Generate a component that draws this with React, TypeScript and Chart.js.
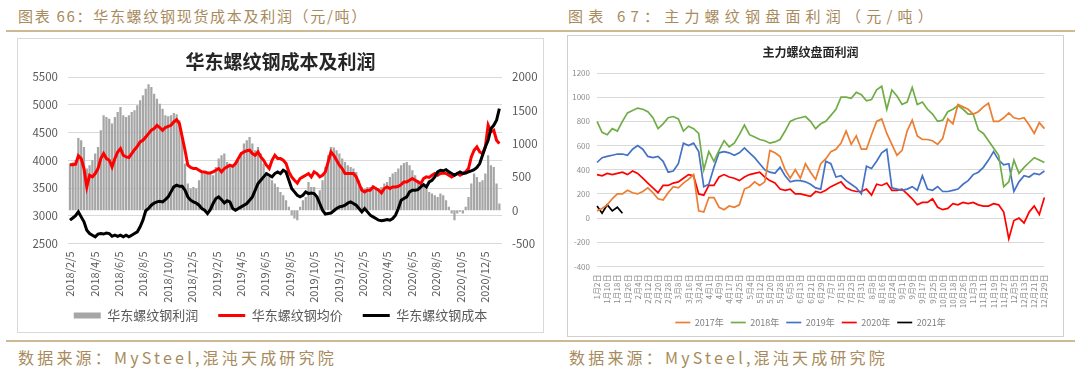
import React, { useEffect, useRef } from "react";
import { Chart, registerables } from "chart.js";

Chart.register(...registerables);

const FONT = "'Noto Sans CJK SC', 'Noto Sans', sans-serif";
Chart.defaults.font.family = FONT;

// ---------- Left chart: 华东螺纹钢成本及利润 (weekly samples from 2018/2/5) ----------
const leftXTickLabels = [
  "2018/2/5", "2018/4/5", "2018/6/5", "2018/8/5", "2018/10/5", "2018/12/5",
  "2019/2/5", "2019/4/5", "2019/6/5", "2019/8/5", "2019/10/5", "2019/12/5",
  "2020/2/5", "2020/4/5", "2020/6/5", "2020/8/5", "2020/10/5", "2020/12/5",
];
// weeks expressed in months (tick labels are every 2 months)
const WEEK_IN_MONTHS = 7 / 30.44;

const weeklyProfit = [
  700, 720, 750, 1085, 1050, 950, 625, 675, 750, 850,
  950, 1200, 1425, 1400, 1375, 1300, 1400, 1475, 1550, 1425,
  1400, 1425, 1475, 1500, 1575, 1650, 1725, 1825, 1890, 1850,
  1750, 1675, 1600, 1525, 1425, 1410, 1425, 1460, 1440, 1350,
  1100, 700, 400, 325, 350, 325, 450, 550, 575, 550,
  550, 525, 650, 775, 825, 850, 725, 650, 650, 700,
  750, 875, 1000, 1050, 1100, 1000, 900, 950, 850, 700,
  575, 500, 450, 400, 350, 275, 225, 150, 50, -75,
  -125, -150, 50, 150, 200, 425, 350, 350, 200, 300,
  450, 650, 825, 950, 940, 900, 850, 775, 725, 675,
  650, 625, 575, 450, 350, 325, 350, 350, 375, 325,
  325, 350, 400, 425, 500, 550, 575, 625, 675, 710,
  725, 675, 600, 525, 450, 400, 350, 325, 275, 250,
  225, 200, 250, 225, 150, 50, -50, -150, -50, -25,
  -50, 50, 200, 400, 550, 500, 425, 450, 550, 825,
  675, 650, 400, 100,
];

const weeklyPrice = [
  3920, 3920, 3930, 4080, 4030, 3850, 3520, 3730, 3700, 3760,
  3850, 4030, 4120, 4030, 4000, 3880, 4030, 4150, 4210, 4090,
  4060, 4050, 4120, 4190, 4250, 4330, 4360, 4420, 4480, 4540,
  4570, 4630, 4590, 4540, 4590, 4610, 4630, 4690, 4730, 4660,
  4420, 4180, 3910, 3870, 3850, 3850, 3820, 3790, 3790, 3770,
  3770, 3790, 3820, 3850, 3790, 3850, 3880, 3910, 3890, 3940,
  4030, 4120, 4150, 4170, 4180, 4120, 4090, 4150, 4060, 4000,
  3910, 3850, 4000, 4090, 4030, 4030, 4000, 3940, 3790, 3700,
  3640, 3590, 3670, 3700, 3730, 3760, 3700, 3790, 3760, 3700,
  3730, 3790, 3970, 4150, 4090, 4000, 3910, 3850, 3760, 3760,
  3760, 3760, 3700, 3580, 3460, 3430, 3460, 3460, 3520, 3490,
  3460, 3410, 3490, 3520, 3490, 3520, 3520, 3530, 3560, 3610,
  3610, 3640, 3670, 3640, 3610, 3580, 3670, 3700, 3690, 3730,
  3760, 3730, 3760, 3770, 3760, 3730, 3700, 3730, 3760, 3730,
  3760, 3790, 3850, 4060, 4180, 4240, 4150, 4120, 4240, 4630,
  4510, 4540, 4360, 4300,
];

const weeklyCost = [
  2920, 2960, 3000, 3070, 2980, 2890, 2740, 2680, 2650, 2620,
  2670, 2680, 2670, 2690, 2680, 2630, 2650, 2630, 2650, 2620,
  2650, 2620, 2650, 2680, 2710, 2800, 2920, 3090, 3130, 3190,
  3230, 3250, 3260, 3250, 3290, 3340, 3430, 3520, 3550, 3530,
  3530, 3460, 3340, 3280, 3250, 3230, 3190, 3130, 3100, 3040,
  3110, 3220, 3310, 3340, 3290, 3230, 3270, 3250, 3130, 3100,
  3130, 3160, 3190, 3220, 3280, 3340, 3460, 3580, 3640, 3700,
  3760, 3730, 3700, 3760, 3790, 3760, 3820, 3790, 3640, 3490,
  3430, 3370, 3340, 3370, 3430, 3400, 3410, 3400, 3340, 3220,
  3100, 3030, 3040, 3050, 3090, 3130, 3160, 3170, 3190, 3230,
  3250, 3220, 3190, 3130, 3070, 3130, 3070, 3010, 2980, 2950,
  2920, 2910, 2920, 2930, 2920, 2950, 3010, 3130, 3280, 3310,
  3340, 3430, 3460, 3460, 3470, 3520, 3560, 3520, 3610, 3640,
  3700, 3790, 3820, 3810, 3830, 3790, 3760, 3730, 3760, 3790,
  3760, 3770, 3790, 3810, 3830, 3870, 3940, 4090, 4240, 4360,
  4570, 4630, 4720, 4930,
];

// ---------- Right chart: 主力螺纹盘面利润 (two samples per labelled date) ----------
const rightXTickLabels = [
  "1月2日", "1月10日", "1月18日", "1月26日", "2月4日", "2月12日", "2月20日", "2月28日",
  "3月8日", "3月16日", "3月24日", "4月1日", "4月9日", "4月17日", "4月25日", "5月4日",
  "5月12日", "5月20日", "5月28日", "6月5日", "6月13日", "6月21日", "6月29日", "7月7日",
  "7月15日", "7月23日", "7月31日", "8月8日", "8月16日", "8月24日", "9月1日", "9月9日",
  "9月17日", "9月25日", "10月10日", "10月18日", "10月26日", "11月3日", "11月11日",
  "11月19日", "11月27日", "12月5日", "12月13日", "12月21日", "12月29日",
];

const profit2017 = [
  60, 80, 110, 160, 200, 200, 230, 210, 200, 220,
  250, 210, 160, 150, 210, 260, 250, 290, 320, 360,
  60, 50, 170, 170, 90, 70, 100, 90, 110, 240,
  260, 300, 270, 300, 560, 540, 510, 400, 330, 400,
  330, 450, 380, 320, 450, 490, 550, 570, 620, 720,
  610, 680, 570, 570, 690, 800, 820, 700, 610, 520,
  560, 720, 810, 680, 650, 650, 640, 610, 660, 820,
  780, 940, 920, 900, 860, 880, 920, 950, 800, 800,
  830, 870, 830, 820, 830, 770, 700, 790, 740,
];
const profit2018 = [
  800, 710, 690, 740, 720, 800, 870, 890, 910, 900,
  880, 830, 740, 780, 830, 840, 820, 720, 760, 740,
  700, 400, 550, 470, 560, 640, 590, 620, 690, 770,
  690, 670, 650, 640, 620, 630, 650, 720, 800, 820,
  830, 840, 800, 740, 780, 800, 850, 900, 1000, 1000,
  990, 1040, 1020, 970, 980, 1060, 1090, 900, 1060, 1010,
  940, 960, 1080, 940, 960, 900, 860, 800, 810, 880,
  900, 930, 900, 860, 860, 730, 700, 640, 580, 520,
  260, 300, 480, 370, 420, 460, 500, 480, 460,
];
const profit2019 = [
  460, 500, 510, 520, 530, 530, 520, 570, 600, 570,
  510, 500, 510, 470, 380, 390, 450, 620, 600, 620,
  550, 260, 280, 420, 540, 550, 540, 520, 540, 580,
  540, 500, 450, 400, 380, 370, 420, 350, 300, 310,
  310, 300, 280, 250, 240, 470, 450, 340, 350, 310,
  280, 250, 200, 430, 410, 470, 540, 570, 250, 240,
  230, 240, 260, 230, 350, 240, 230, 260, 220, 220,
  230, 240, 280, 310, 360, 380, 420, 480, 550, 480,
  440, 450, 220, 300, 350, 340, 370, 360, 390,
];
const profit2020 = [
  360, 350, 370, 360, 370, 380, 360, 390, 370, 330,
  290, 250, 210, 270, 270, 290, 300, 330, 360, 350,
  200, 190, 270, 270, 340, 360, 340, 330, 310, 340,
  360, 370, 380, 340, 310, 290, 240, 230, 240, 200,
  200, 190, 180, 220, 210, 230, 260, 280, 300, 250,
  230, 220, 220, 240, 190, 280, 270, 290, 230, 230,
  240, 200, 160, 110, 130, 130, 160, 90, 70, 80,
  120, 110, 130, 120, 130, 110, 100, 100, 120, 110,
  50, -170, -20, 0, -40, 50, 100, 30, 170,
];
const profit2021 = [100, 40, 110, 60, 90, 40];

const seriesYears = ["2017年", "2018年", "2019年", "2020年", "2021年"];
const seriesColors = ["#ed7d31", "#70ad47", "#4472c4", "#ff0000", "#000000"];

// let the rotated x tick labels extend past the x-scale box (legend sits close below)
const unclipXLabels = {
  id: "unclipXLabels",
  beforeDraw(chart: any) {
    const s = chart.scales.x;
    if (s) s._computeLabelArea = () => undefined;
  },
};

const plainNumber = (v: any) => String(v);

function LeftChart() {
  const ref = useRef<HTMLCanvasElement>(null);
  useEffect(() => {
    const toXY = (arr: number[]) => arr.map((v, i) => ({ x: i * WEEK_IN_MONTHS, y: v }));
    const chart = new Chart(ref.current as HTMLCanvasElement, {
      type: "bar",
      data: {
        datasets: [
          {
            type: "bar",
            label: "华东螺纹钢利润",
            data: toXY(weeklyProfit),
            yAxisID: "y1",
            backgroundColor: "#a6a6a6",
            borderColor: "#a6a6a6",
            borderWidth: 0,
            barPercentage: 1,
            categoryPercentage: 0.8,
            order: 3,
            pointStyle: "rect",
          } as any,
          {
            type: "line",
            label: "华东螺纹钢均价",
            data: toXY(weeklyPrice),
            yAxisID: "y",
            borderColor: "#ff0000",
            backgroundColor: "#ff0000",
            borderWidth: 3,
            pointRadius: 0,
            order: 2,
            pointStyle: "line",
          } as any,
          {
            type: "line",
            label: "华东螺纹钢成本",
            data: toXY(weeklyCost),
            yAxisID: "y",
            borderColor: "#000000",
            backgroundColor: "#000000",
            borderWidth: 3,
            pointRadius: 0,
            order: 1,
            pointStyle: "line",
          } as any,
        ],
      },
      options: {
        animation: false,
        responsive: false,
        maintainAspectRatio: false,
        layout: { padding: 0 },
        plugins: {
          title: {
            display: true,
            text: "华东螺纹钢成本及利润",
            color: "#262626",
            font: { family: FONT, size: 19, weight: "bold" },
            padding: { top: 11.4, bottom: 3.8 },
          },
          legend: {
            position: "bottom",
            labels: {
              usePointStyle: true,
              pointStyleWidth: 27,
              boxHeight: 6,
              padding: 20,
              color: "#595959",
              font: { family: FONT, size: 13 },
              sort: (a: any, b: any) => a.datasetIndex - b.datasetIndex,
            },
          },
          tooltip: { enabled: false },
        },
        scales: {
          x: {
            type: "linear",
            min: -0.16,
            max: 35.4,
            offset: false,
            grid: { display: false, drawTicks: false, offset: false },
            border: { display: false },
            afterBuildTicks: (s: any) => {
              s.ticks = leftXTickLabels.map((_, i) => ({ value: i * 2 }));
            },
            afterFit: (s: any) => {
              s.height = 45.5;
            },
            ticks: {
              autoSkip: false,
              minRotation: 90,
              maxRotation: 90,
              padding: 8,
              color: "#595959",
              font: { family: FONT, size: 11 },
              callback: (_v: any, i: number) => leftXTickLabels[i],
            },
          },
          y: {
            position: "left",
            min: 2500,
            max: 5500,
            grid: { color: "#d9d9d9", drawTicks: false },
            border: { display: false },
            afterFit: (s: any) => {
              s.width = 50;
            },
            ticks: {
              stepSize: 500,
              padding: 10,
              color: "#595959",
              font: { family: FONT, size: 11.5 },
              callback: plainNumber,
            },
          },
          y1: {
            position: "right",
            min: -500,
            max: 2000,
            grid: { display: false, drawTicks: false },
            border: { display: false },
            afterFit: (s: any) => {
              s.width = 41;
            },
            ticks: {
              stepSize: 500,
              padding: 10,
              color: "#595959",
              font: { family: FONT, size: 11.5 },
              callback: plainNumber,
            },
          },
        },
      } as any,
      plugins: [unclipXLabels],
    });
    return () => chart.destroy();
  }, []);
  return (
    <canvas
      ref={ref}
      width={525}
      height={293}
      style={{ position: "absolute", left: 18, top: 39, width: 525, height: 293 }}
    />
  );
}

function RightChart() {
  const ref = useRef<HTMLCanvasElement>(null);
  useEffect(() => {
    const categories = Array.from({ length: rightXTickLabels.length * 2 - 1 }, (_, j) =>
      j % 2 === 0 ? rightXTickLabels[j / 2] : ""
    );
    const allSeries = [profit2017, profit2018, profit2019, profit2020, profit2021];
    const chart = new Chart(ref.current as HTMLCanvasElement, {
      type: "line",
      data: {
        labels: categories,
        datasets: allSeries.map((d, k) => ({
          label: seriesYears[k],
          data: d,
          borderColor: seriesColors[k],
          backgroundColor: seriesColors[k],
          borderWidth: 1.7,
          pointRadius: 0,
          pointStyle: "line",
          tension: 0,
        })) as any,
      },
      options: {
        animation: false,
        responsive: false,
        maintainAspectRatio: false,
        layout: { padding: { right: 9, left: 0, top: 0, bottom: 0 } },
        plugins: {
          title: {
            display: true,
            text: "主力螺纹盘面利润",
            color: "#262626",
            font: { family: FONT, size: 12, weight: "bold" },
            padding: { top: 8.8, bottom: 13.8 },
          },
          legend: {
            position: "bottom",
            labels: {
              usePointStyle: true,
              pointStyleWidth: 15,
              boxHeight: 2,
              padding: 7,
              color: "#7f7f7f",
              font: { family: FONT, size: 9 },
            },
          },
          tooltip: { enabled: false },
        },
        scales: {
          x: {
            type: "category",
            offset: false,
            grid: { display: false, drawTicks: false },
            border: { display: false },
            afterFit: (s: any) => {
              s.height = 44.5;
            },
            ticks: {
              autoSkip: false,
              minRotation: 90,
              maxRotation: 90,
              padding: 8,
              color: "#8c8c8c",
              font: { family: FONT, size: 8 },
            },
          },
          y: {
            min: -400,
            max: 1200,
            grid: { color: "#d9d9d9", drawTicks: false, lineWidth: 1 },
            border: { display: false },
            afterFit: (s: any) => {
              s.width = 29;
            },
            ticks: {
              stepSize: 200,
              padding: 7,
              color: "#8c8c8c",
              font: { family: FONT, size: 8 },
              callback: plainNumber,
            },
          },
        },
      } as any,
      plugins: [unclipXLabels],
    });
    return () => chart.destroy();
  }, []);
  return (
    <canvas
      ref={ref}
      width={494}
      height={301}
      style={{ position: "absolute", left: 568, top: 36, width: 494, height: 301 }}
    />
  );
}

const GOLD_TEXT = "#a88b5c";
const GOLD_LINE = "#cdb994";

export default function App() {
  const headerStyle: React.CSSProperties = {
    position: "absolute",
    top: 6,
    height: 20,
    lineHeight: "20px",
    fontSize: 15,
    color: GOLD_TEXT,
    fontFamily: FONT,
    whiteSpace: "nowrap",
  };
  const footerStyle: React.CSSProperties = {
    position: "absolute",
    top: 346,
    height: 22,
    lineHeight: "22px",
    fontSize: 16,
    letterSpacing: 3.2,
    color: GOLD_TEXT,
    fontFamily: FONT,
    whiteSpace: "nowrap",
  };
  return (
    <div
      style={{
        position: "absolute",
        left: 0,
        top: 0,
        width: 1080,
        height: 371,
        background: "#ffffff",
        overflow: "hidden",
      }}
    >
      <div style={{ ...headerStyle, left: 18, letterSpacing: 1.7 }}>
        图表 66：华东螺纹钢现货成本及利润（元/吨）
      </div>
      <div style={{ ...headerStyle, left: 568, letterSpacing: 5.2 }}>
        图表 67：主力螺纹钢盘面利润（元/吨）
      </div>
      <div style={{ position: "absolute", left: 6, top: 30, width: 1069, height: 2, background: GOLD_LINE }} />

      <div
        style={{
          position: "absolute",
          left: 17,
          top: 38,
          width: 527,
          height: 295,
          border: "1px solid #d9d9d9",
          boxSizing: "border-box",
        }}
      />
      <div
        style={{
          position: "absolute",
          left: 567,
          top: 35,
          width: 497,
          height: 302,
          border: "1px solid #d0d0d0",
          boxSizing: "border-box",
        }}
      />
      <LeftChart />
      <RightChart />

      <div style={{ position: "absolute", left: 6, top: 340, width: 1069, height: 2, background: GOLD_LINE }} />
      <div style={{ ...footerStyle, left: 18 }}>数据来源：MySteel,混沌天成研究院</div>
      <div style={{ ...footerStyle, left: 569 }}>数据来源：MySteel,混沌天成研究院</div>
    </div>
  );
}
